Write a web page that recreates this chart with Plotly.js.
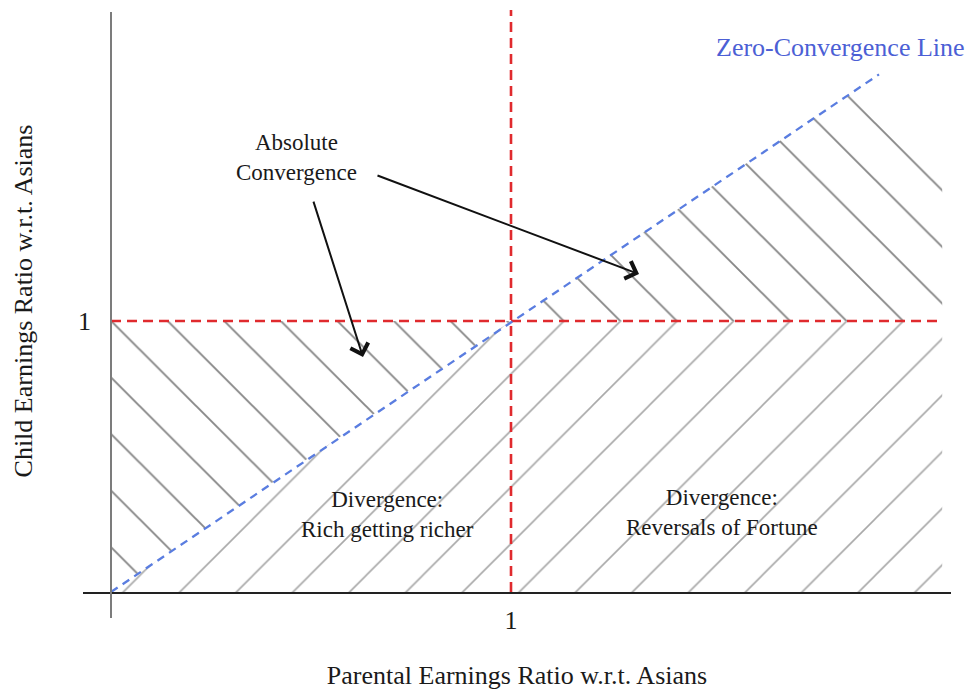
<!DOCTYPE html>
<html><head><meta charset="utf-8">
<script src="https://cdn.plot.ly/plotly-3.0.1.min.js"></script>
<style>html,body{margin:0;padding:0;background:#fff}#chart{width:974px;height:693px}</style>
</head><body><div id="chart"></div>
<script>
// ---------------- data ----------------
const xTickVals = [1];
const xTickText = ['1'];
const yTickVals = [1];
const yTickText = ['1'];
const xTitle = 'Parental Earnings Ratio w.r.t. Asians';
const yTitle = 'Child Earnings Ratio w.r.t. Asians';
// zero-convergence line: child ratio = parental ratio
const zeroLineX = [0, 1.92];
const zeroLineY = [0, 1.91];
// reference lines at ratio 1
const parentOneX = [1, 1];
const parentOneY = [0, 2.148];
const childOneX = [0, 2.078];
const childOneY = [1, 1];
// regions
const convLeftX = [0, 0, 1];
const convLeftY = [0, 1, 1];
const convRightX = [1, 1.92, 2.078, 2.078];
const convRightY = [1, 1.91, 1.675, 1];
const divX = [0, 1, 2.078, 2.078];
const divY = [0, 1, 1, 0];
const regionLabels = ['Absolute<br>Convergence', 'Divergence:<br>Rich getting richer', 'Divergence:<br>Reversals of Fortune'];
const lineLabel = 'Zero-Convergence Line';

// ---------------- drawing ----------------
const SERIF = 'Liberation Serif, Times New Roman, serif';
function hatch(x, y, shape, color, lw) {
  const size = 40;
  return {
    type: 'scatter', mode: 'lines', x: x, y: y, fill: 'toself',
    fillcolor: 'rgba(0,0,0,0)', line: {width: 0, color: 'rgba(0,0,0,0)'},
    hoverinfo: 'skip', showlegend: false,
    fillpattern: {shape: shape, size: size, solidity: lw / size, fgcolor: color,
                  bgcolor: 'rgba(0,0,0,0)', fillmode: 'replace'}
  };
}
function dashed(x, y, color, w, dash) {
  return {type: 'scatter', mode: 'lines', x: x, y: y, hoverinfo: 'skip', showlegend: false,
          line: {color: color, width: w, dash: dash}};
}
const traces = [
  hatch(divX, divY, '/', '#a8a8a8', 1.6),
  hatch(convLeftX, convLeftY, '\\', '#868686', 1.9),
  hatch(convRightX, convRightY, '\\', '#868686', 1.9),
  dashed(childOneX, childOneY, '#e02a2e', 2.6, '10px,6px'),
  dashed(parentOneX, parentOneY, '#e02a2e', 2.6, '10px,6px'),
  dashed(zeroLineX, zeroLineY, '#5a7de0', 2.3, '8px,6px')
];

const plotH = 582;
const layout = {
  width: 974, height: 693,
  margin: {l: 83, r: 23, t: 10, b: 101, pad: 0},
  paper_bgcolor: '#ffffff', plot_bgcolor: '#ffffff', showlegend: false,
  font: {family: SERIF, color: '#1a1a1a', size: 23},
  xaxis: {
    range: [-0.07, 2.1], tickvals: xTickVals, ticktext: xTickText, ticks: '',
    showgrid: false, zeroline: false, showline: true, linecolor: '#222', linewidth: 1.5,
    tickfont: {family: SERIF, size: 26, color: '#1a1a1a'}, ticklabelstandoff: 4,
    title: {text: xTitle, font: {family: SERIF, size: 26, color: '#1a1a1a'}, standoff: 32},
    fixedrange: true
  },
  yaxis: {
    range: [0, 2.1476], anchor: 'free', position: 28 / 868,
    tickvals: yTickVals, ticktext: yTickText, ticks: '',
    showgrid: false, zeroline: false, showline: false,
    tickfont: {family: SERIF, size: 26, color: '#1a1a1a'}, ticklabelstandoff: 20,
    title: {text: yTitle, font: {family: SERIF, size: 26, color: '#1a1a1a'}, standoff: 36},
    fixedrange: true
  },
  shapes: [
    {type: 'line', xref: 'x', yref: 'paper', x0: 0, x1: 0, y0: -26 / plotH, y1: 1 - 2 / plotH,
     line: {color: '#7c7c7c', width: 2}, layer: 'above'}
  ],
  annotations: [
    {xref: 'x', yref: 'y', x: 0.4625, y: 1.605, text: regionLabels[0], showarrow: false,
     font: {family: SERIF, size: 23, color: '#1a1a1a'}, align: 'center'},
    {xref: 'x', yref: 'y', x: 0.69, y: 0.285, text: regionLabels[1], showarrow: false,
     font: {family: SERIF, size: 23, color: '#1a1a1a'}, align: 'center'},
    {xref: 'x', yref: 'y', x: 1.5275, y: 0.292, text: regionLabels[2], showarrow: false,
     font: {family: SERIF, size: 23, color: '#1a1a1a'}, align: 'center'},
    {xref: 'x', yref: 'y', x: 1.8225, y: 2.011, text: lineLabel, showarrow: false,
     font: {family: SERIF, size: 26, color: '#4c5fd5'}},
    {xref: 'x', yref: 'y', x: 0.63, y: 0.867, axref: 'x', ayref: 'y', ax: 0.505, ay: 1.446,
     text: '', showarrow: true, arrowhead: 4, arrowsize: 1.8, arrowwidth: 2, arrowcolor: '#111'},
    {xref: 'x', yref: 'y', x: 1.32, y: 1.173, axref: 'x', ayref: 'y', ax: 0.6625, ay: 1.539,
     text: '', showarrow: true, arrowhead: 4, arrowsize: 1.8, arrowwidth: 2, arrowcolor: '#111'}
  ]
};
Plotly.newPlot('chart', traces, layout, {staticPlot: true, displayModeBar: false});
</script>
</body></html>
